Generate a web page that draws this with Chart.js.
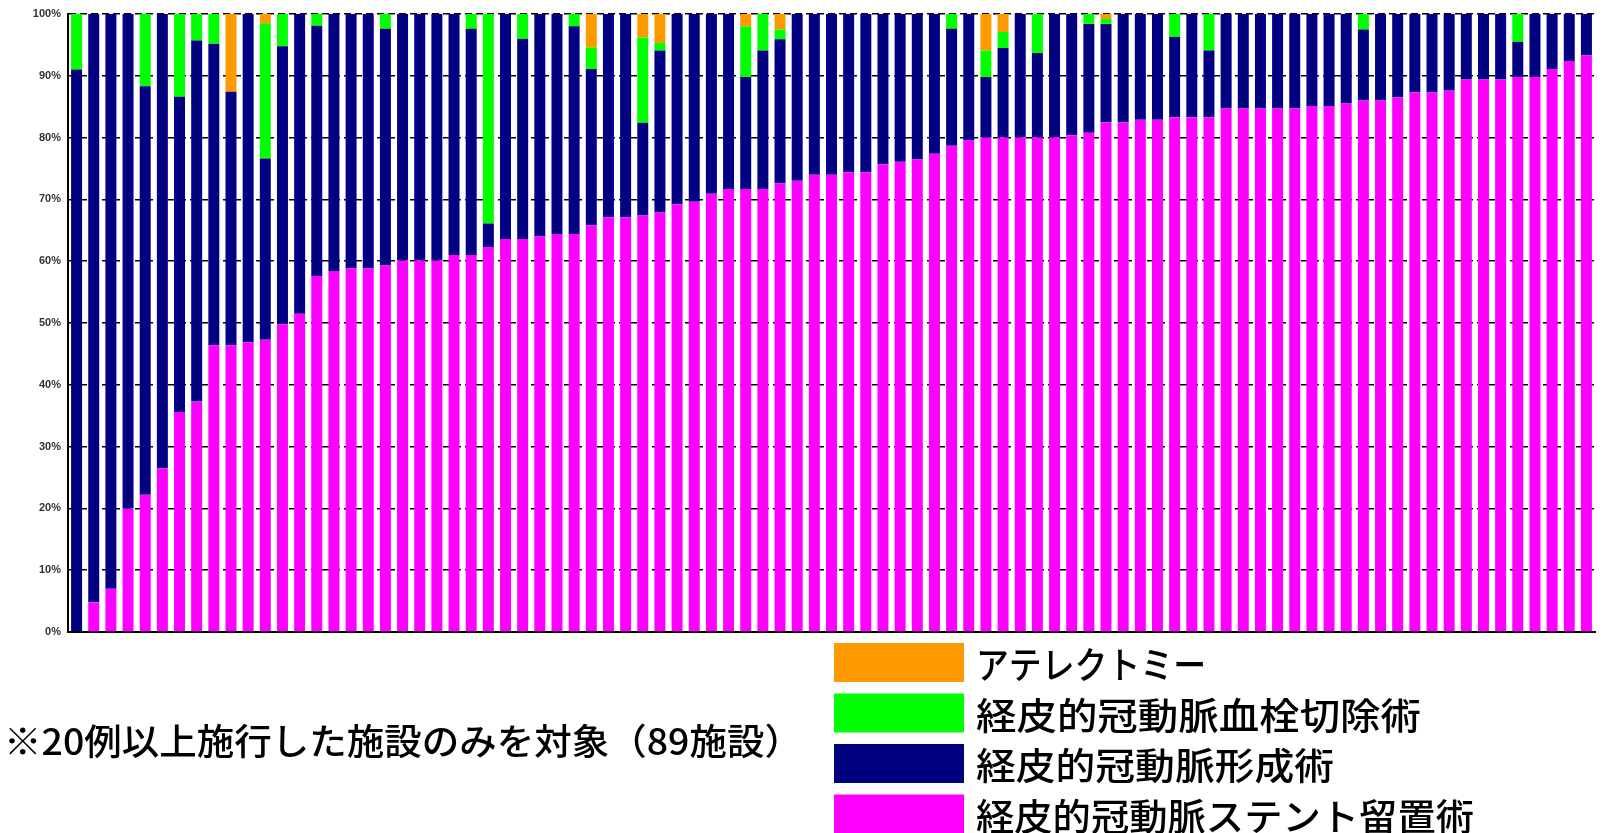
<!DOCTYPE html>
<html>
<head>
<meta charset="utf-8">
<script src="https://cdn.jsdelivr.net/npm/chart.js@4/dist/chart.umd.min.js"></script>
<style>
  body { margin: 0; background: #fff; }
  #wrap { width: 1604px; height: 833px; }
</style>
</head>
<body>
<div id="wrap"><canvas id="chartPci" width="1604" height="833"></canvas></div>
<script>
// 施設 (89)
const facilities = Array.from({ length: 89 }, (_, i) => String(i + 1));

// 割合 (%) - 経皮的冠動脈ステント留置術
const stent = [
  0, 4.8, 7, 20, 22.2, 26.5, 35.6, 37.3, 46.4, 46.4,
  46.9, 47.3, 49.8, 51.5, 57.6, 58.4, 58.8, 58.8, 59.3, 60.1,
  60.1, 60.1, 61.0, 61.0, 62.3, 63.6, 63.6, 64.0, 64.4, 64.4,
  65.8, 67.1, 67.1, 67.4, 67.9, 69.2, 69.6, 70.9, 71.7, 71.7,
  71.7, 72.6, 73.0, 74.0, 74.0, 74.4, 74.4, 75.7, 76.1, 76.5,
  77.4, 78.7, 79.6, 80.0, 80.0, 80.0, 80.0, 80.0, 80.4, 80.8,
  82.5, 82.5, 82.9, 82.9, 83.3, 83.3, 83.3, 84.7, 84.7, 84.7,
  84.7, 84.7, 85.1, 85.1, 85.5, 86.0, 86.0, 86.5, 87.3, 87.3,
  87.6, 89.4, 89.4, 89.4, 89.8, 89.8, 91.1, 92.4, 93.3
];

// 経皮的冠動脈形成術
const plasty = [
  91, 95.2, 93, 80, 66.1, 73.5, 51, 58.4, 48.8, 41,
  53.1, 29.3, 45, 48.5, 40.5, 41.6, 41.2, 41.2, 38.3, 39.9,
  39.9, 39.9, 39.0, 36.6, 3.8, 36.4, 32.4, 36.0, 35.6, 33.6,
  25.3, 32.9, 32.9, 15.0, 26.2, 30.8, 30.4, 29.1, 28.3, 18.1,
  22.4, 23.3, 27.0, 26.0, 26.0, 25.6, 25.6, 24.3, 23.9, 23.5,
  22.6, 18.9, 20.4, 9.8, 14.5, 20.0, 13.7, 20.0, 19.6, 17.6,
  15.9, 17.5, 17.1, 17.1, 13.0, 16.7, 10.8, 15.3, 15.3, 15.3,
  15.3, 15.3, 14.9, 14.9, 14.5, 11.5, 14.0, 13.5, 12.7, 12.7,
  12.4, 10.6, 10.6, 10.6, 5.7, 10.2, 8.9, 7.6, 6.7
];

// 経皮的冠動脈血栓切除術
const thrombectomy = [
  9, 0, 0, 0, 11.7, 0, 13.4, 4.3, 4.8, 0,
  0, 21.9, 5.2, 0, 1.9, 0, 0, 0, 2.4, 0,
  0, 0, 0, 2.4, 33.9, 0, 4.0, 0, 0, 2.0,
  3.5, 0, 0, 13.8, 1.2, 0, 0, 0, 0, 8.2,
  5.9, 1.6, 0, 0, 0, 0, 0, 0, 0, 0,
  0, 2.4, 0, 4.3, 2.6, 0, 6.3, 0, 0, 1.6,
  0.8, 0, 0, 0, 3.7, 0, 5.9, 0, 0, 0,
  0, 0, 0, 0, 0, 2.5, 0, 0, 0, 0,
  0, 0, 0, 0, 4.5, 0, 0, 0, 0
];

// アテレクトミー
const atherectomy = [
  0, 0, 0, 0, 0, 0, 0, 0, 0, 12.6,
  0, 1.5, 0, 0, 0, 0, 0, 0, 0, 0,
  0, 0, 0, 0, 0, 0, 0, 0, 0, 0,
  5.4, 0, 0, 3.8, 4.7, 0, 0, 0, 0, 2.0,
  0, 2.5, 0, 0, 0, 0, 0, 0, 0, 0,
  0, 0, 0, 5.9, 2.9, 0, 0, 0, 0, 0,
  0.8, 0, 0, 0, 0, 0, 0, 0, 0, 0,
  0, 0, 0, 0, 0, 0, 0, 0, 0, 0,
  0, 0, 0, 0, 0, 0, 0, 0, 0
];

const yTicks = ['0%', '10%', '20%', '30%', '40%', '50%', '60%', '70%', '80%', '90%', '100%'];
const footnote = '※20例以上施行した施設のみを対象（89施設）';

const jpFont = "'Noto Sans CJK JP', sans-serif";

// 元画像の字幅に合わせて横に伸縮して書く
function fitText(c, text, x, y, width) {
  const sx = width / c.measureText(text).width;
  c.save();
  c.translate(x, y);
  c.scale(sx, 1);
  c.fillText(text, 0, 0);
  c.restore();
}

// 凡例 (上から順) の文字幅
const legendWidths = [230, 445, 358, 498];

const legendPlugin = {
  id: 'legendBoxes',
  afterDraw(chart) {
    const c = chart.ctx;
    c.save();
    c.textBaseline = 'middle';
    c.font = '500 37px ' + jpFont;
    const sets = chart.data.datasets.slice().reverse();
    sets.forEach((ds, i) => {
      const top = 643 + i * 50.5;
      c.fillStyle = ds.backgroundColor;
      c.fillRect(834, top, 130, 39);
      c.fillStyle = '#000';
      fitText(c, ds.label, 976, top + 22, legendWidths[i]);
    });
    c.font = '500 36px ' + jpFont;
    fitText(c, footnote, 4, 741, 798);
    c.restore();
  }
};

new Chart(document.getElementById('chartPci'), {
  type: 'bar',
  data: {
    labels: facilities,
    datasets: [
      { label: '経皮的冠動脈ステント留置術', data: stent, backgroundColor: '#ff00ff' },
      { label: '経皮的冠動脈形成術', data: plasty, backgroundColor: '#000080' },
      { label: '経皮的冠動脈血栓切除術', data: thrombectomy, backgroundColor: '#00ff00' },
      { label: 'アテレクトミー', data: atherectomy, backgroundColor: '#ff9900' }
    ]
  },
  options: {
    responsive: false,
    animation: false,
    layout: { padding: { top: 14, right: 9, bottom: 201, left: 0 } },
    datasets: { bar: { categoryPercentage: 1, barPercentage: 0.64 } },
    plugins: { legend: { display: false }, tooltip: { enabled: false } },
    scales: {
      x: {
        stacked: true,
        ticks: { display: false },
        grid: { display: false, drawTicks: false },
        border: { display: true, color: '#000', width: 2 },
        afterFit(scale) { scale.height = 0; }
      },
      y: {
        stacked: true,
        min: 0,
        max: 100,
        ticks: {
          stepSize: 10,
          padding: 7,
          color: '#333',
          font: { family: "'Liberation Sans', Arial", size: 11, weight: 'bold' },
          callback: (v) => yTicks[Math.round(v / 10)]
        },
        grid: { color: '#000', lineWidth: 1.5, drawTicks: false },
        border: { display: true, color: '#000', width: 2, dash: [7, 4] },
        afterFit(scale) { scale.width = 68; }
      }
    }
  },
  plugins: [legendPlugin]
});
</script>
</body>
</html>
